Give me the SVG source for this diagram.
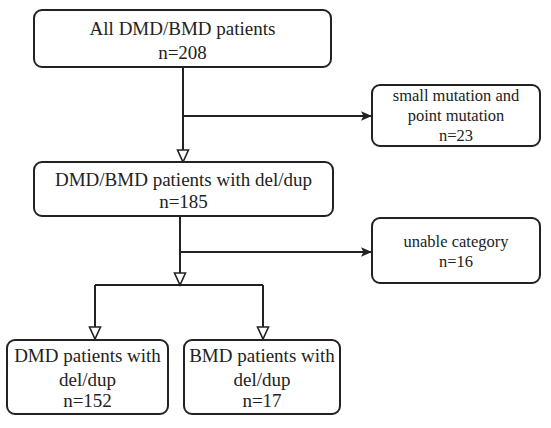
<svg xmlns="http://www.w3.org/2000/svg" width="551" height="428" viewBox="0 0 551 428">
  <style>
    .box { fill: #ffffff; stroke: #222222; stroke-width: 2; }
    .t { font-size: 19px; fill: #222222; text-anchor: middle; }
    .s { font-size: 16.5px; fill: #222222; text-anchor: middle; }
    .line { fill: none; stroke: #222222; stroke-width: 2; }
  </style>
  <defs>
    <marker id="open" markerUnits="userSpaceOnUse" viewBox="-1 -7 15 14" markerWidth="15" markerHeight="14" refX="12" refY="0" orient="auto">
      <path d="M0,-5.5 L12,0 L0,5.5 Z" fill="#ffffff" stroke="#222222" stroke-width="1.6"/>
    </marker>
    <marker id="filled" markerUnits="userSpaceOnUse" viewBox="0 -6 12 12" markerWidth="12" markerHeight="12" refX="11" refY="0" orient="auto">
      <path d="M0,-4.8 L11,0 L0,4.8 L2.5,0 Z" fill="#222222"/>
    </marker>
  </defs>
  <rect width="551" height="428" fill="#ffffff"/>

  <g id="connectors">
    <path class="line" d="M183,67 V162" marker-end="url(#open)"/>
    <path class="line" d="M183,116 H372" marker-end="url(#filled)"/>
    <path class="line" d="M180,216 V285" marker-end="url(#open)"/>
    <path class="line" d="M180,252 H372" marker-end="url(#filled)"/>
    <path class="line" d="M95,285 H263"/>
    <path class="line" d="M95,285 V339" marker-end="url(#open)"/>
    <path class="line" d="M263,285 V339" marker-end="url(#open)"/>
  </g>

  <g font-family="Liberation Serif, DejaVu Serif, serif">
  <g id="all-patients">
    <rect class="box" x="34" y="10" width="297" height="57" rx="8"/>
    <text class="t" x="182.5" y="35">All DMD/BMD patients</text>
    <text class="t" x="182.5" y="59">n=208</text>
  </g>

  <g id="small-mutation">
    <rect class="box" x="372" y="85" width="168" height="61" rx="8"/>
    <text class="s" x="456" y="101">small mutation and</text>
    <text class="s" x="456" y="121">point mutation</text>
    <text class="s" x="456" y="141">n=23</text>
  </g>

  <g id="deldup-patients">
    <rect class="box" x="34" y="162" width="299" height="54" rx="8"/>
    <text class="t" x="183.5" y="186">DMD/BMD patients with del/dup</text>
    <text class="t" x="183.5" y="208">n=185</text>
  </g>

  <g id="unable-category">
    <rect class="box" x="372" y="218" width="168" height="65" rx="8"/>
    <text class="s" x="456" y="247">unable category</text>
    <text class="s" x="456" y="267">n=16</text>
  </g>

  <g id="dmd-patients">
    <rect class="box" x="7" y="340" width="161" height="74" rx="8"/>
    <text class="t" x="87.5" y="362">DMD patients with</text>
    <text class="t" x="87.5" y="386">del/dup</text>
    <text class="t" x="87.5" y="407">n=152</text>
  </g>

  <g id="bmd-patients">
    <rect class="box" x="184" y="340" width="156" height="74" rx="8"/>
    <text class="t" x="262" y="362">BMD patients with</text>
    <text class="t" x="262" y="386">del/dup</text>
    <text class="t" x="262" y="407">n=17</text>
  </g>
  </g>
</svg>
